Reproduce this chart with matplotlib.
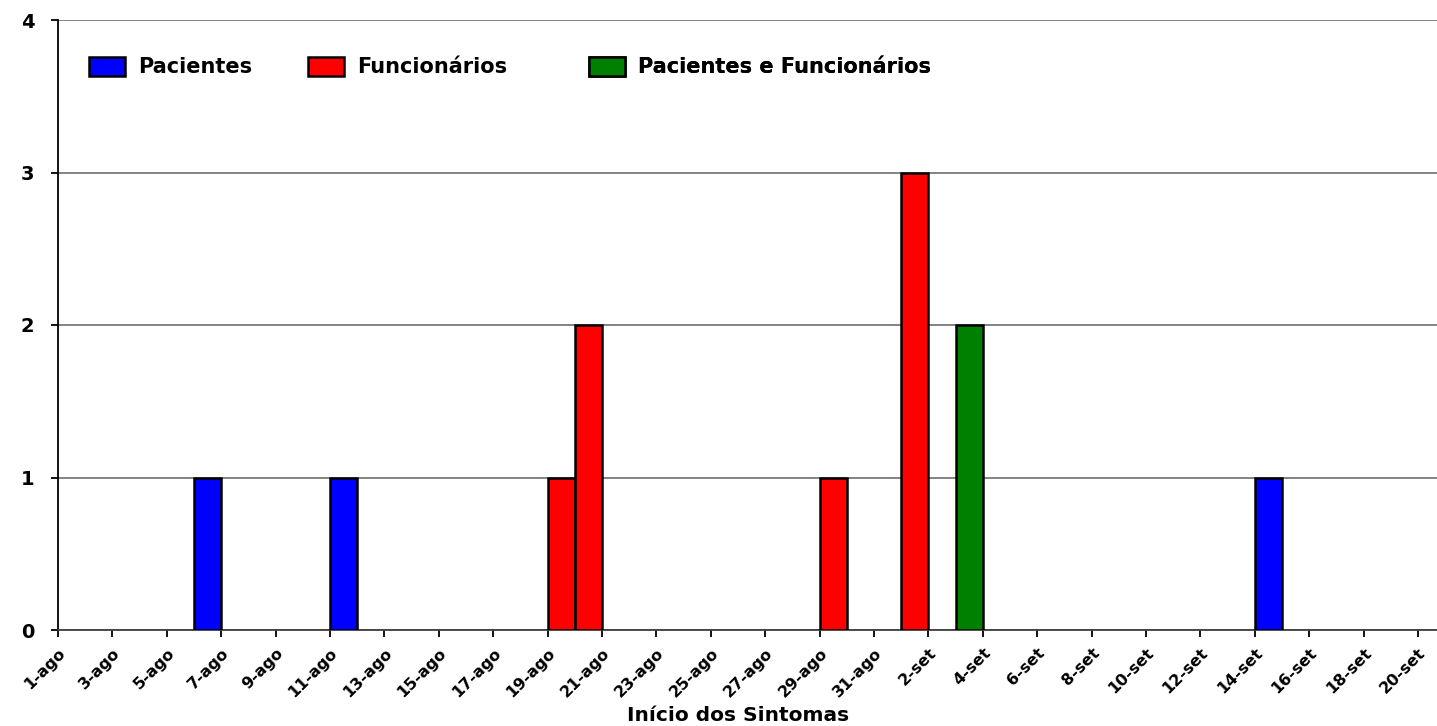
import matplotlib
matplotlib.use('Agg')
import matplotlib.pyplot as plt
from matplotlib.ticker import MultipleLocator

plt.rcParams['font.family'] = ['DejaVu Sans']
plt.rcParams['font.weight'] = 'bold'

# Dias do período (1-ago a 20-set)
dias = [f'{d}-ago' for d in range(1, 32)] + [f'{d}-set' for d in range(1, 21)]

pac_dias = ['6-ago', '11-ago', '14-set']
pac_casos = [1, 1, 1]

func_dias = ['19-ago', '20-ago', '29-ago', '1-set']
func_casos = [1, 2, 1, 3]

ambos_dias = ['3-set']
ambos_casos = [2]

series = [
    ('Pacientes', pac_dias, pac_casos, '#0000FF'),
    ('Funcionários', func_dias, func_casos, '#FF0000'),
    ('Pacientes e Funcionários', ambos_dias, ambos_casos, '#008000'),
]

fig = plt.figure(figsize=(14.37, 7.26), dpi=100)
left, right = 58 / 1437, 1.0
bottom, top = (726 - 630) / 726, (726 - 20) / 726
ax = fig.add_axes([left, bottom, right - left, top - bottom])

containers = []
for nome, d, c, cor in series:
    x = [dias.index(s) for s in d]
    b = ax.bar(x, c, width=1.0, align='edge', color=cor, edgecolor='black',
               linewidth=1.8, label=nome, zorder=3)
    containers.append(b)

ax.set_xlim(0, (1437 - 58) / 27.2)
ax.set_ylim(0, 4)
ax.yaxis.set_major_locator(MultipleLocator(1))
ax.grid(axis='y', color='#7a7a7a', linewidth=1.3, zorder=0)

ticks = list(range(0, len(dias), 2))
ax.set_xticks(ticks)
ax.set_xticklabels([dias[i] for i in ticks], rotation=45, ha='right',
                   rotation_mode='anchor', fontsize=11.5, fontweight='bold')
ax.tick_params(axis='x', length=5, width=1.3, pad=6, color='black')
ax.tick_params(axis='y', length=5, width=1.3, pad=12, labelsize=14, color='black')
for lbl in ax.get_yticklabels():
    lbl.set_fontweight('bold')

ax.spines['top'].set_visible(False)
ax.spines['right'].set_visible(False)
ax.spines['left'].set_linewidth(1.3)
ax.spines['bottom'].set_linewidth(1.3)
ax.spines['bottom'].set_color('#404040')

ax.set_xlabel('Início dos Sintomas', fontsize=14.5, fontweight='bold')
ax.xaxis.set_label_coords((738 - 58) / 1379, (630 - 706) / 610)

# uma legenda por série, lado a lado no topo
leg_x = [89, 308, 589]
for (nome, _, _, _), b, px in zip(series, containers, leg_x):
    leg = ax.legend([b], [nome], loc='upper left',
                    bbox_to_anchor=((px - 58) / 1379, (630 - 57) / 610),
                    frameon=False, fontsize=15, handlelength=1.75,
                    handleheight=1.0, handletextpad=0.6, borderaxespad=0,
                    borderpad=0)
    ax.add_artist(leg)

fig.savefig('out.png', dpi=100, facecolor='white')
